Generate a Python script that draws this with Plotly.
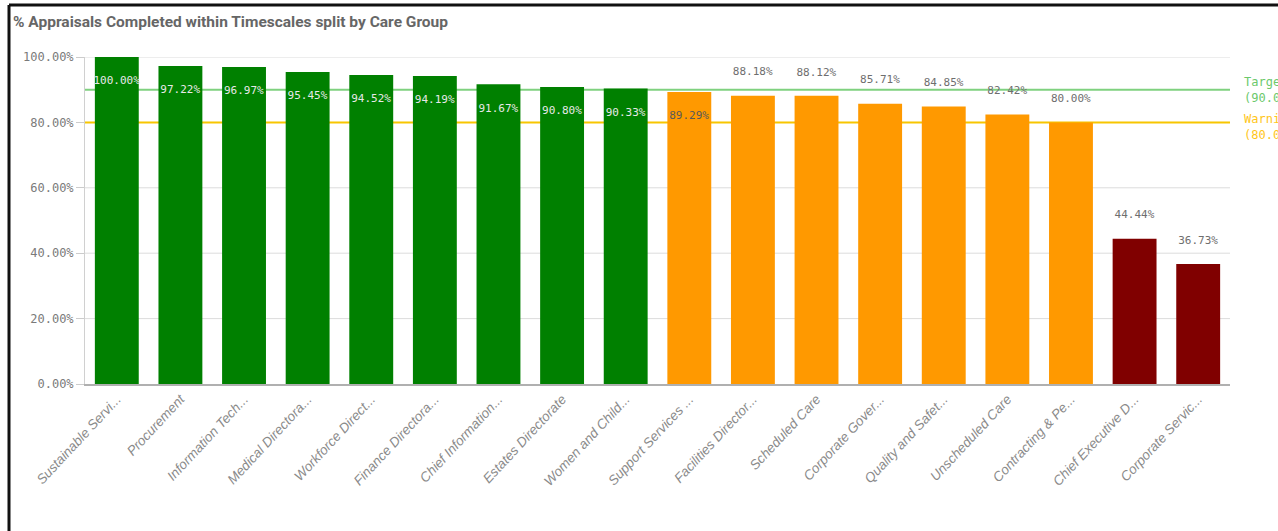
import plotly.graph_objects as go

categories = ["Sustainable Servi...", "Procurement", "Information Tech...", "Medical Directora...",
              "Workforce Direct...", "Finance Directora...", "Chief Information...", "Estates Directorate",
              "Women and Child...", "Support Services ...", "Facilities Director...", "Scheduled Care",
              "Corporate Gover...", "Quality and Safet...", "Unscheduled Care", "Contracting & Pe...",
              "Chief Executive D...", "Corporate Servic..."]
values = [100.00, 97.22, 96.97, 95.45, 94.52, 94.19, 91.67, 90.80, 90.33, 89.29,
          88.18, 88.12, 85.71, 84.85, 82.42, 80.00, 44.44, 36.73]
target = 90.0
warning = 80.0
y_ticks = [0, 20, 40, 60, 80, 100]
y_tick_labels = ["0.00%", "20.00%", "40.00%", "60.00%", "80.00%", "100.00%"]

GREEN = "#008000"
ORANGE = "#ff9900"
DARKRED = "#800000"

colors = []
positions = []
text_colors = []
labels = []
for i, v in enumerate(values):
    if v >= target:
        colors.append(GREEN)
    elif v >= warning:
        colors.append(ORANGE)
    else:
        colors.append(DARKRED)
    if i <= 9:
        positions.append("inside")
        text_colors.append("#e8e8e8" if v >= target else "#595959")
        labels.append(f"\u00a0<br>{v:.2f}%")
    else:
        positions.append("outside")
        text_colors.append("#6e6e6e")
        labels.append(f"{v:.2f}%<br>\u00a0")

MONO = "DejaVu Sans Mono, Liberation Mono, monospace"

fig = go.Figure()
fig.add_trace(go.Bar(
    x=categories, y=values,
    marker=dict(color=colors, line=dict(width=0)),
    text=labels,
    textposition=positions,
    insidetextanchor="end",
    textangle=0,
    textfont=dict(family=MONO, size=11, color=text_colors),
    constraintext="none",
    cliponaxis=False,
    hoverinfo="skip",
))

# gridlines (below everything), then reference lines on top of them but below bars
for t in y_ticks[1:]:
    fig.add_shape(type="line", xref="paper", yref="y", x0=0, x1=1, y0=t, y1=t,
                  layer="below", line=dict(color="#dcdcdc", width=1))
fig.add_shape(type="line", xref="paper", yref="y", x0=0, x1=1, y0=target, y1=target,
              layer="below", line=dict(color="#7fd17f", width=2))
fig.add_shape(type="line", xref="paper", yref="y", x0=0, x1=1, y0=warning, y1=warning,
              layer="below", line=dict(color="#f7c600", width=2))

L, R, T, B = 85, 48, 57, 147
W = 1278 - L - R
H = 531 - T - B

fig.add_annotation(xref="paper", yref="y", x=(1242 - L) / W, y=target, xanchor="left", yanchor="middle",
                   text="Target<br>(90.00%)", showarrow=False, align="left",
                   font=dict(family=MONO, size=12, color="#6cc96c"))
fig.add_annotation(xref="paper", yref="y", x=(1242 - L) / W, y=warning - 1.5, xanchor="left", yanchor="middle",
                   text="Warning<br>(80.00%)", showarrow=False, align="left",
                   font=dict(family=MONO, size=12, color="#ffc61a"))

# Outer black frame (left and top)
fig.add_shape(type="line", xref="paper", yref="paper", x0=(9 - L) / W, x1=(1290 - L) / W,
              y0=1 + (T - 5) / H, y1=1 + (T - 5) / H, line=dict(color="#111111", width=3))
fig.add_shape(type="line", xref="paper", yref="paper", x0=(9 - L) / W, x1=(9 - L) / W,
              y0=1 + (T - 5) / H, y1=-(540 - T - H) / H, line=dict(color="#111111", width=3))

fig.add_annotation(xref="paper", yref="paper", x=(11 - L) / W, y=1 + (T - 22) / H,
                   xanchor="left", yanchor="middle", showarrow=False,
                   text="<b>% Appraisals Completed within Timescales split by Care Group</b>",
                   font=dict(family="Roboto, Liberation Sans, sans-serif",
                             size=15.5, color="#666666"))

fig.update_layout(
    width=1278, height=531,
    margin=dict(l=L, r=R, t=T, b=B),
    paper_bgcolor="white", plot_bgcolor="white",
    bargap=0.31,
    showlegend=False,
    xaxis=dict(
        tickangle=-47,
        tickfont=dict(family="Liberation Sans, Arial, sans-serif", size=13.5, color="#8a8a8a", style="italic"),
        showline=True, linecolor="#b0b0b0", linewidth=2,
        ticks="", showgrid=False,
    ),
    yaxis=dict(
        range=[0, 100],
        tickvals=y_ticks, ticktext=y_tick_labels,
        tickfont=dict(family=MONO, size=12, color="#7a7a7a"),
        ticks="outside", ticklen=8, tickcolor="#cccccc",
        showgrid=False,
        showline=True, linecolor="#d0d0d0", linewidth=1,
        zeroline=False,
    ),
)

fig.write_html("out.html", config={"displayModeBar": False},
               post_script="document.body.style.margin='0';document.body.style.overflow='hidden';")
